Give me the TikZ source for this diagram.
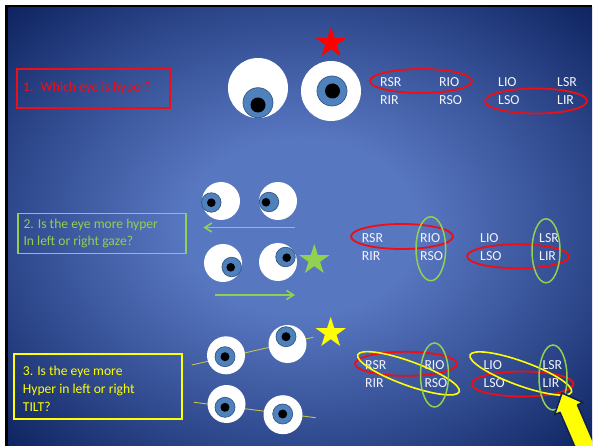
\documentclass[tikz,border=0pt]{standalone}
\usepackage{fontspec}
\setmainfont{Carlito}
\usetikzlibrary{shapes.geometric,arrows.meta}

\definecolor{bgin}{RGB}{88,119,193}
\definecolor{bgmid}{RGB}{46,72,140}
\definecolor{bgout}{RGB}{13,34,94}
\definecolor{irisblue}{RGB}{79,129,189}
\definecolor{irisedge}{RGB}{52,88,134}
\definecolor{qred}{RGB}{236,16,22}
\definecolor{ringred}{RGB}{238,14,20}
\definecolor{qgreen}{RGB}{146,208,80}
\definecolor{qyellow}{RGB}{255,255,0}
\definecolor{tiltline}{RGB}{196,198,72}
\definecolor{labelwhite}{RGB}{242,244,250}
\definecolor{arrowedge}{RGB}{16,34,86}

\pgfdeclareradialshading{slidebg}{\pgfpoint{0bp}{0bp}}{%
  color(0bp)=(bgin); color(10bp)=(bgin); color(25bp)=(bgmid);
  color(36bp)=(bgout); color(50bp)=(bgout)}

\tikzset{
  eyeball/.style={circle, fill=white, inner sep=0pt, minimum size=#1},
  iris/.style={circle, fill=irisblue, draw=irisedge, line width=0.7pt,
    inner sep=0pt, minimum size=#1},
  pupil/.style={circle, fill=black, inner sep=0pt, minimum size=#1},
  muscle/.style={anchor=west, inner sep=0pt, text=labelwhite,
    font=\fontsize{13.8}{16}\selectfont},
  qbox/.style={draw=#1, line width=1.8pt, anchor=north west, inner sep=0pt},
  qtext/.style={text=#1, anchor=west, align=left, inner sep=0pt},
  hyperstar/.style={star, star points=5, star point ratio=2.618, fill=#1,
    inner sep=0pt, minimum size=32pt},
  ringred/.style={draw=ringred, line width=1.8pt},
  ringgreen/.style={draw=qgreen, line width=1.5pt},
  ringyellow/.style={draw=qyellow, line width=1.6pt},
  gaze/.style={draw=qgreen, line width=1.6pt,
    -{Straight Barb[length=7pt,width=9pt,line width=1.6pt]}},
  tilt/.style={draw=tiltline, line width=0.9pt},
}

% one eye: name, white centre, white size, iris centre, iris size, pupil centre, pupil size
\newcommand{\oneeye}[7]{%
  \node[eyeball=#3] (#1w) at (#2) {};
  \node[iris=#5] (#1i) at (#4) {};
  \node[pupil=#7] (#1p) at (#6) {};}

\begin{document}
\begin{tikzpicture}[x=1pt,y=-1pt]
\useasboundingbox (0,0) rectangle (594,446);
\fill[white] (0,0) rectangle (594,446);

% slide frame and background
\fill[black] (5,5) rectangle (592,446);
\begin{scope}
  \clip (8.5,8) rectangle (592,446);
  \fill[shading=slidebg] (8.5,8) rectangle (592,446);
\end{scope}

% ---------- 1. which eye is hyper ----------
\node[qbox=qred, minimum width=153pt, minimum height=39pt] (q1) at (16,68) {};
\node[qtext=qred, font=\fontsize{13.6}{16.7}\selectfont] (q1t) at (23,88)
  {1.~ Which eye is hyper?};

\oneeye{ea}{258,88}{60pt}{258,102.7}{30pt}{258,105}{15pt}
\oneeye{eb}{331,91}{60pt}{332,91}{30pt}{332.5,91}{15pt}
\node[hyperstar=red] (s1) at (331,43) {};

\node[muscle] (a1) at (380,82) {RSR};
\node[muscle] (a2) at (439,82) {RIO};
\node[muscle] (a3) at (498,82) {LIO};
\node[muscle] (a4) at (557,82) {LSR};
\node[muscle] (a5) at (380,100) {RIR};
\node[muscle] (a6) at (439,100) {RSO};
\node[muscle] (a7) at (498,100) {LSO};
\node[muscle] (a8) at (557,100) {LIR};
\draw[ringred] (421,81) ellipse [x radius=51pt, y radius=12pt];
\draw[ringred] (536,101) ellipse [x radius=51pt, y radius=12.5pt];

% ---------- 2. left or right gaze ----------
\node[qbox=qgreen, minimum width=168pt, minimum height=40pt] (q2) at (16.7,212.7) {};
\node[qtext=qgreen, font=\fontsize{13.6}{16.7}\selectfont] (q2t) at (23.3,233.3)
  {2. Is the eye more hyper\\In left or right gaze?};

\oneeye{ec}{221,201}{38pt}{211.3,202.5}{19.5pt}{211.3,202.7}{8.6pt}
\oneeye{ed}{278,201}{38pt}{269,202}{19.5pt}{266,202.3}{8.6pt}
\coordinate (g1s) at (295,227.5);
\coordinate (g1e) at (203.3,227.5);
\draw[gaze] (g1s) -- (g1e);

\oneeye{ee}{223,263}{38pt}{231.7,267}{19.5pt}{230.7,267.3}{8.6pt}
\oneeye{ef}{278,262}{38pt}{285.5,257}{19.5pt}{286.7,257.7}{8.6pt}
\node[hyperstar=qgreen] (s2) at (314.3,260) {};
\coordinate (g2s) at (215,295);
\coordinate (g2e) at (295,295);
\draw[gaze] (g2s) -- (g2e);

\node[muscle] (b1) at (361.7,238.5) {RSR};
\node[muscle] (b2) at (420,238.5) {RIO};
\node[muscle] (b3) at (480,238.5) {LIO};
\node[muscle] (b4) at (539,238.5) {LSR};
\node[muscle] (b5) at (361.7,255.6) {RIR};
\node[muscle] (b6) at (420,255.6) {RSO};
\node[muscle] (b7) at (480,255.6) {LSO};
\node[muscle] (b8) at (539,255.6) {LIR};
\draw[ringred] (402,236.5) ellipse [x radius=51pt, y radius=12.5pt];
\draw[ringred] (518,256.3) ellipse [x radius=51pt, y radius=12pt];
\draw[ringgreen] (430.8,248.7) ellipse [x radius=14.8pt, y radius=32pt];
\draw[ringgreen] (546,250.8) ellipse [x radius=14pt, y radius=32pt];

% ---------- 3. left or right tilt ----------
\node[qbox=qyellow, minimum width=168pt, minimum height=65pt]
  (q3) at (12.7,352.7) {};
\node[qtext=qyellow, font=\fontsize{13.6}{17.8}\selectfont] (q3t) at (22.7,388.6)
  {3. Is the eye more\\Hyper in left or right\\TILT?};

\coordinate (t1a) at (191.7,365);
\coordinate (t1b) at (313.3,337.3);
\draw[tilt] (t1a) -- (t1b);
\coordinate (t2a) at (194,402.3);
\coordinate (t2b) at (315.7,417.7);
\draw[tilt] (t2a) -- (t2b);

\oneeye{eg}{226,355.3}{38pt}{225,356.7}{20pt}{225,356.7}{9pt}
\oneeye{eh}{287.5,344}{38pt}{286,336.7}{20pt}{286,336.7}{9pt}
\oneeye{ei}{226.5,404}{38pt}{225,407.3}{20pt}{225,407.3}{9pt}
\oneeye{ej}{283,414.7}{39pt}{282.7,414}{20pt}{282.7,414}{9pt}
\node[hyperstar=qyellow] (s3) at (330.7,333) {};

\node[muscle] (c1) at (365,365) {RSR};
\node[muscle] (c2) at (424.3,365) {RIO};
\node[muscle] (c3) at (483.3,365) {LIO};
\node[muscle] (c4) at (542.3,365) {LSR};
\node[muscle] (c5) at (365,383.3) {RIR};
\node[muscle] (c6) at (424.3,383.3) {RSO};
\node[muscle] (c7) at (483.3,383.3) {LSO};
\node[muscle] (c8) at (542.3,383.3) {LIR};
\draw[ringred] (406,363.8) ellipse [x radius=51pt, y radius=12pt];
\draw[ringred] (522.5,384) ellipse [x radius=51pt, y radius=12.5pt];
\draw[ringyellow, rotate around={-20:(408.5,373.3)}] (408.5,373.3)
  ellipse [x radius=54pt, y radius=12pt];
\draw[ringyellow, rotate around={-20:(520.8,373.5)}] (520.8,373.5)
  ellipse [x radius=54pt, y radius=12pt];
\draw[ringgreen] (434.5,375) ellipse [x radius=14pt, y radius=32pt];
\draw[ringgreen] (553,377.5) ellipse [x radius=14pt, y radius=32.5pt];

% pointer arrow
\begin{scope}
  \clip (8.5,8) rectangle (592,446);
  \filldraw[fill=qyellow, draw=arrowedge, line width=1.6pt, line join=round]
    (562,393) -- (583,402.5) -- (577.5,404.9) -- (598.4,453.5)
    -- (581,461) -- (560,412.4) -- (554.5,414.8) -- cycle;
\end{scope}
\end{tikzpicture}
\end{document}
